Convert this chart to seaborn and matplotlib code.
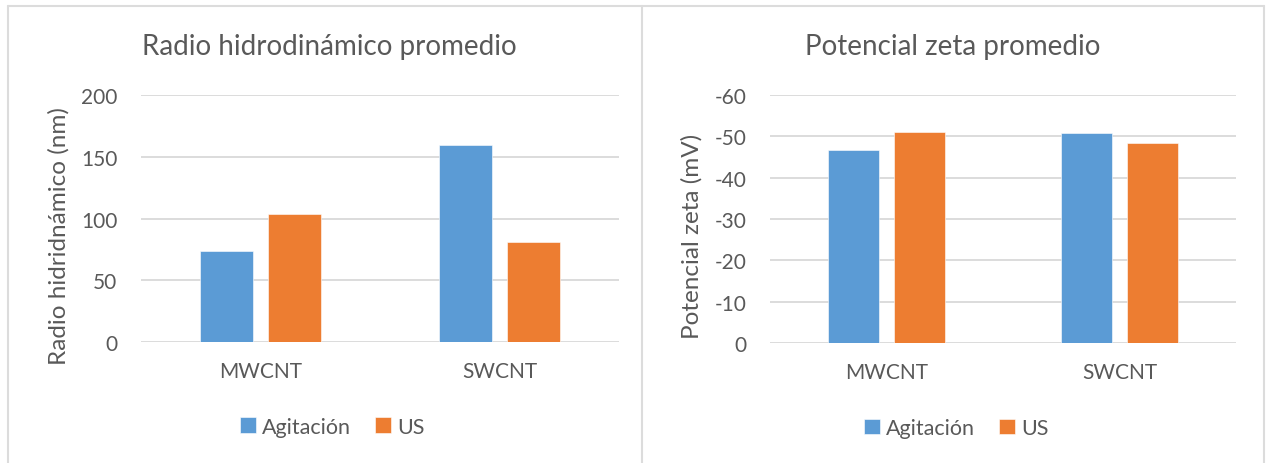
import matplotlib
matplotlib.use("Agg")
import matplotlib.pyplot as plt
from matplotlib.lines import Line2D
import seaborn as sns
import pandas as pd

# Data
categories = ["MWCNT", "SWCNT"]
methods = ["Agitación", "US"]
radio_agitacion = [73.5, 159.5]
radio_us = [103.5, 81.0]
zeta_agitacion = [-46.8, -50.8]
zeta_us = [-51.0, -48.5]
radio_ticks = [0, 50, 100, 150, 200]
zeta_ticks = [0, -10, -20, -30, -40, -50, -60]

BLUE = "#5B9BD5"
ORANGE = "#ED7D31"
TEXT = "#595959"
GRID = "#D9D9D9"

sns.set_theme(style="white")
plt.rcParams["font.family"] = ["Lato", "DejaVu Sans"]
plt.rcParams["axes.unicode_minus"] = False


def to_frame(a, b):
    return pd.DataFrame({
        "cat": categories * 2,
        "method": [methods[0]] * 2 + [methods[1]] * 2,
        "value": list(a) + list(b),
    })


fig = plt.figure(figsize=(12.68, 4.64), dpi=100)
W, H = 1268, 464

# Chart frames: shared top edge and three vertical edges
frame_kw = dict(transform=fig.transFigure, color="#DCDCDC", linewidth=1.5)
top = 1 - 6.5 / H
fig.lines.append(Line2D([8 / W, 1263.5 / W], [top, top], **frame_kw))
for x in (8, 641.5, 1263.5):
    fig.lines.append(Line2D([x / W, x / W], [0, top], **frame_kw))


def panel(rect, df, ticks, ylim, title, ylabel, title_x, ylabel_x):
    ax = fig.add_axes(rect)
    sns.barplot(data=df, x="cat", y="value", hue="method", order=categories,
                hue_order=methods, palette=[BLUE, ORANGE], width=0.567,
                gap=0.215, ax=ax, edgecolor="white", linewidth=0.4,
                saturation=1)
    ax.set_ylim(*ylim)
    ax.set_yticks(ticks)
    ax.set_yticklabels([str(t) for t in ticks])
    ax.set_xlim(-0.5, 1.5)
    ax.yaxis.grid(True, color=GRID, linewidth=1.3)
    ax.set_axisbelow(True)
    for s in ax.spines.values():
        s.set_visible(False)
    ax.tick_params(axis="both", length=0, labelsize=15, labelcolor=TEXT)
    ax.tick_params(axis="y", pad=17)
    ax.tick_params(axis="x", pad=14)
    ax.set_xlabel("")
    ax.set_ylabel("")
    fig.text(ylabel_x / W, (H - 236) / H, ylabel, rotation=90, ha="center",
             va="center", fontsize=17.5, color=TEXT)
    fig.text(title_x / W, (H - 47) / H, title, ha="center", va="center",
             fontsize=20, color=TEXT)
    handles, labels = ax.get_legend_handles_labels()
    ax.legend(handles, labels, loc="center", bbox_to_anchor=(0.40, -0.343),
              ncol=2, frameon=False, fontsize=15.5, labelcolor=TEXT,
              handlelength=0.75, handleheight=0.75, handletextpad=0.3,
              columnspacing=1.1)
    return ax


panel([141 / W, (H - 343) / H, 478 / W, 247 / H], to_frame(radio_agitacion, radio_us),
      radio_ticks, (0, 200), "Radio hidrodinámico promedio",
      "Radio hidridnámico (nm)", 329, 59)
panel([770 / W, (H - 344) / H, 466 / W, 248 / H], to_frame(zeta_agitacion, zeta_us),
      zeta_ticks, (0, -60), "Potencial zeta promedio",
      "Potencial zeta (mV)", 953, 692)

fig.savefig("out.png", dpi=100, facecolor="white")
